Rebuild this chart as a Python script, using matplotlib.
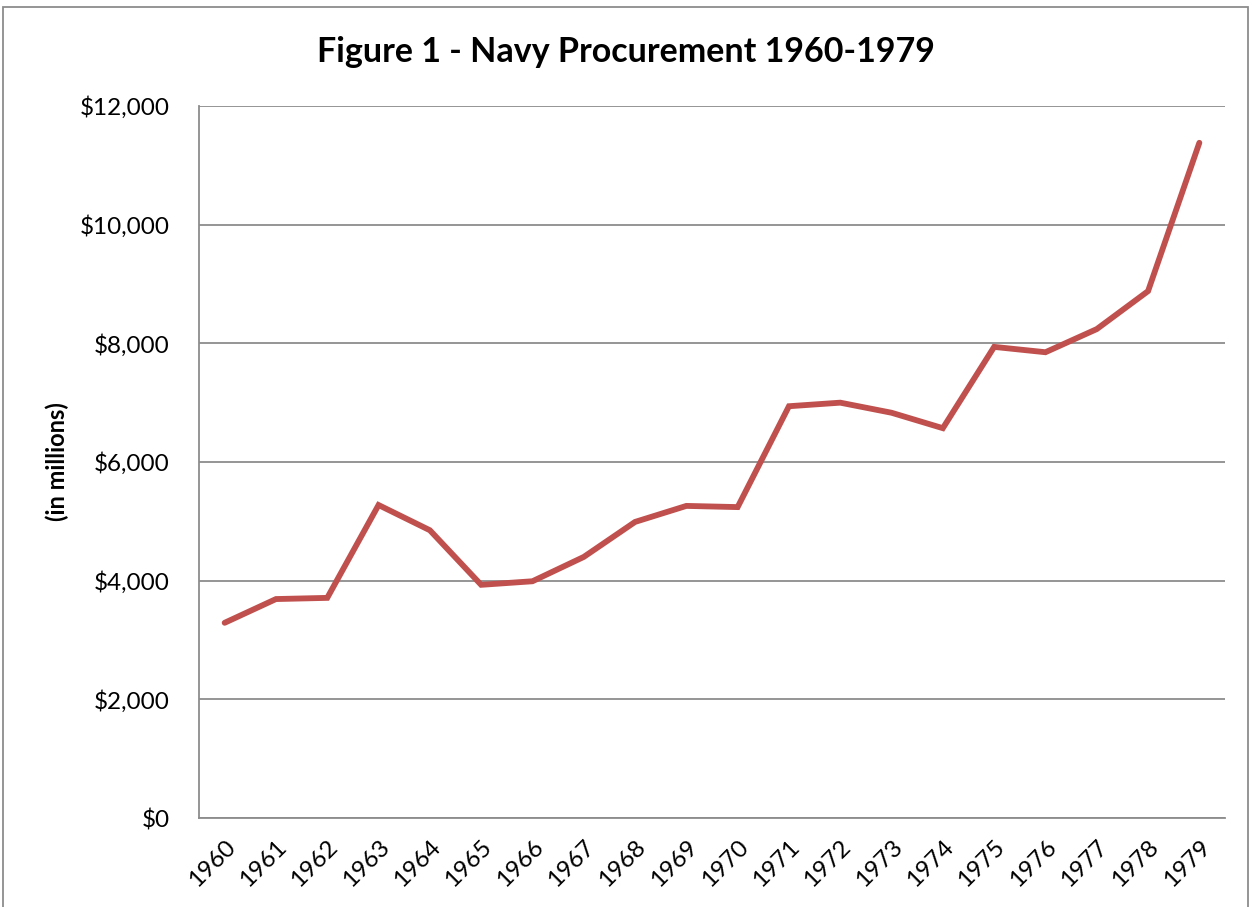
import matplotlib.pyplot as plt
from matplotlib.patches import Rectangle
from matplotlib.ticker import FuncFormatter

# Navy procurement, $ millions
years = [str(y) for y in range(1960, 1980)]
procurement = [3290, 3690, 3710, 5275, 4850, 3930, 3990, 4400, 4990, 5260,
               5240, 6940, 7000, 6830, 6570, 7940, 7850, 8240, 8880, 11380]
y_ticks = [0, 2000, 4000, 6000, 8000, 10000, 12000]

plt.rcParams['font.family'] = ['Lato', 'DejaVu Sans']

fig = plt.figure(figsize=(12.52, 9.07), dpi=100)
ax = fig.add_axes([199 / 1252, 1 - 818 / 907, (1225 - 199) / 1252, (818 - 106) / 907])

x = list(range(len(years)))
ax.plot(x, procurement, color='#C0504D', linewidth=4.2, solid_capstyle='round',
        solid_joinstyle='miter')

ax.set_xlim(-0.5, len(years) - 0.5)
ax.set_ylim(0, 12000)
ax.set_yticks(y_ticks)
ax.yaxis.set_major_formatter(FuncFormatter(lambda v, p: '${:,.0f}'.format(v)))
ax.set_xticks(x)
ax.set_xticklabels(years, rotation=45, ha='right', rotation_mode='anchor')
ax.tick_params(axis='both', length=0, labelsize=17.5, colors='black')
ax.tick_params(axis='y', pad=21)
ax.tick_params(axis='x', pad=13)

ax.grid(axis='y', color='#8c8c8c', linewidth=1.3)
ax.set_axisbelow(True)
for s in ['top', 'right']:
    ax.spines[s].set_visible(False)
for s in ['left', 'bottom']:
    ax.spines[s].set_color('#8c8c8c')
    ax.spines[s].set_linewidth(1.3)

ax.set_ylabel('(in millions)', fontsize=17, fontweight='bold', labelpad=8)
fig.text(0.5, 1 - 52 / 907, 'Figure 1 - Navy Procurement 1960-1979',
         ha='center', va='center', fontsize=24.5, fontweight='bold')

# outer chart border
fig.patches.append(Rectangle((3 / 1252, -0.05), 1245 / 1252, 1.05 - 7 / 907,
                             transform=fig.transFigure, fill=False,
                             edgecolor='#8c8c8c', linewidth=1.3))

plt.savefig('out.png', dpi=100)
